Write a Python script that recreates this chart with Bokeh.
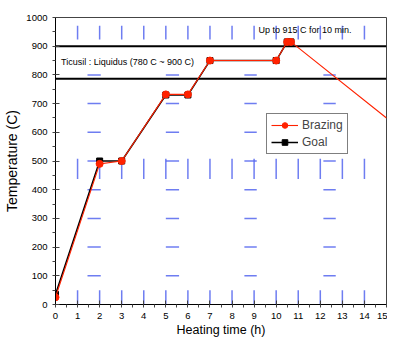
from bokeh.plotting import figure
from bokeh.models import Range1d, SingleIntervalTicker
from bokeh.core.properties import value
from bokeh.embed import file_html
from bokeh.resources import INLINE

# Data
brazing_x = [0, 2, 3, 5, 6, 7, 10, 10.5, 10.67, 15]
brazing_y = [25, 490, 500, 732, 732, 850, 850, 915, 915, 650]
brazing_mx = [0, 2, 3, 5, 6, 7, 10, 10.5, 10.67]
brazing_my = [25, 490, 500, 732, 732, 850, 850, 915, 915]
goal_x = [0, 2, 3, 5, 6, 7, 10, 10.5, 10.67]
goal_y = [35, 500, 500, 730, 730, 850, 850, 915, 915]
liquidus_lines = [787, 900]
x_ticks_step = 1
y_ticks_step = 100

# background mark artefacts (as in the reference image)
vmark_x = list(range(1, 15))
vmark_bands = [(0, 50), (437, 508), (923, 971)]
hmark_y = [100, 200, 300, 400, 500, 600, 700, 800]
hmark_bands = [(1.45, 2.05), (5.0, 5.6), (8.56, 9.12), (12.14, 12.7)]

FONT = "Liberation Sans"

p = figure(width=387, height=339, output_backend="svg", toolbar_location=None,
           x_range=Range1d(0, 15), y_range=Range1d(0, 1000),
           min_border_left=55, min_border_right=1, min_border_top=17, min_border_bottom=33)
p.grid.visible = False
p.outline_line_color = "#444444"
p.outline_line_width = 1

# blue marks
vx0, vy0, vx1, vy1 = [], [], [], []
for x in vmark_x:
    for a, b in vmark_bands:
        vx0.append(x); vx1.append(x); vy0.append(a); vy1.append(b)
p.segment(vx0, vy0, vx1, vy1, line_color="#5566ee", line_width=1.5, line_alpha=0.85)
hx0, hy0, hx1, hy1 = [], [], [], []
for y in hmark_y:
    for a, b in hmark_bands:
        hx0.append(a); hx1.append(b); hy0.append(y); hy1.append(y)
p.segment(hx0, hy0, hx1, hy1, line_color="#5566ee", line_width=1.5, line_alpha=0.85)

# liquidus lines
p.segment([0] * len(liquidus_lines), liquidus_lines, [15] * len(liquidus_lines), liquidus_lines,
          line_color="black", line_width=2)

# Goal
p.line(goal_x, goal_y, line_color="black", line_width=1.5, legend_label="Goal")
p.scatter(goal_x, goal_y, marker="square", size=6, fill_color="black", line_color="black",
          legend_label="Goal")

# Brazing
p.line(brazing_x, brazing_y, line_color="#ff2200", line_width=1.1, legend_label="Brazing")
p.scatter(brazing_mx, brazing_my, marker="circle", size=7, fill_color="#ff2200",
          line_color="#ff2200", legend_label="Brazing")

# annotations
p.text(x=[0.25], y=[845], text=["Ticusil : Liquidus (780 C ~ 900 C)"], text_font=value(FONT),
       text_font_size="9px", text_baseline="middle", text_align="left", text_color="black")
p.text(x=[9.2], y=[958], text=["Up to 915 C for 10 min."], text_font=value(FONT),
       text_font_size="9px", text_baseline="middle", text_align="left", text_color="black")

# axes
p.xaxis.ticker = SingleIntervalTicker(interval=x_ticks_step, num_minor_ticks=2)
p.yaxis.ticker = SingleIntervalTicker(interval=y_ticks_step, num_minor_ticks=2)
for ax in (p.xaxis[0], p.yaxis[0]):
    ax.axis_line_color = "black"
    ax.axis_line_width = 1
    ax.major_tick_in = 4
    ax.major_tick_out = 0
    ax.minor_tick_in = 0
    ax.minor_tick_out = 3
    ax.major_tick_line_color = "#444444"
    ax.minor_tick_line_color = "#444444"
    ax.major_label_text_font = FONT
    ax.major_label_text_font_size = "9.5px"
    ax.major_label_text_color = "black"
    ax.axis_label_text_font = FONT
    ax.axis_label_text_font_style = "normal"
    ax.axis_label_text_color = "black"
p.xaxis.axis_label = "Heating time (h)"
p.yaxis.axis_label = "Temperature (C)"
p.xaxis.axis_label_text_font_size = "12.5px"
p.yaxis.axis_label_text_font_size = "14px"
p.xaxis.major_label_standoff = 5
p.xaxis.axis_label_standoff = 1
p.yaxis.major_label_standoff = 5
p.yaxis.axis_label_standoff = 3

# legend
lg = p.legend[0]
lg.items = [lg.items[1], lg.items[0]]
lg.location = (211, 150)
lg.label_text_font = FONT
lg.label_text_font_size = "12px"
lg.glyph_width = 27
lg.glyph_height = 14
lg.padding = 4
lg.spacing = 3
lg.margin = 0
lg.label_standoff = 4
lg.label_height = 14
lg.border_line_color = "black"
lg.border_line_width = 1
lg.background_fill_alpha = 1

open("out.html", "w").write(file_html(p, INLINE))
